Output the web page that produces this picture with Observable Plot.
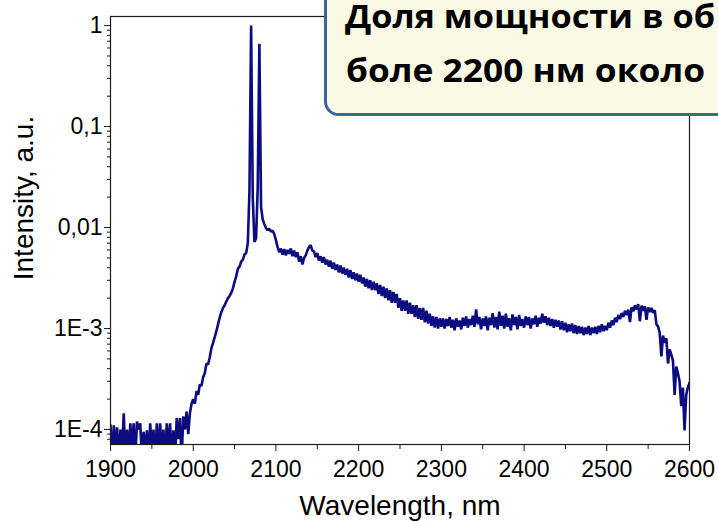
<!DOCTYPE html>
<html>
<head>
<meta charset="utf-8">
<script src="https://cdn.jsdelivr.net/npm/d3@7"></script>
<script src="https://cdn.jsdelivr.net/npm/@observablehq/plot@0.6"></script>
<style>
  html, body { margin: 0; padding: 0; background: #fff; }
  #chart { width: 718px; height: 522px; overflow: hidden; }
</style>
</head>
<body>
<div id="chart"></div>
<script>
// Supercontinuum spectrum, sampled every 2 nm from 1900 nm to 2600 nm.
const startNm = 1900;
const stepNm = 2;

// Noise floor of the detector, 1900–1998 nm
const baseline1900to1998 = [
  1.1e-4, 5e-5, 1.1e-4, 6e-5, 1.05e-4, 5e-5, 1.0e-4, 6e-5, 1.45e-4, 5e-5,
  1.0e-4, 5.5e-5, 1.15e-4, 6e-5, 1.15e-4, 5e-5, 1.2e-4, 1.0e-4, 1.15e-4, 5e-5,
  9.5e-5, 5.5e-5, 9.8e-5, 5e-5, 1.15e-4, 6e-5, 1.0e-4, 5e-5, 1.15e-4, 5e-5,
  1.15e-4, 6e-5, 1.0e-4, 5e-5, 1.15e-4, 6e-5, 1.15e-4, 5e-5, 9.8e-5, 5e-5,
  1.3e-4, 8e-5, 1.3e-4, 5e-5, 1.35e-4, 1.0e-4, 1.5e-4, 9e-5, 1.45e-4, 1.8e-4
];

// Steep rise and the two pump lines, 2000–2098 nm
const rise2000to2098 = [
  2.0e-4, 1.8e-4, 2.4e-4, 2.2e-4, 2.8e-4, 2.7e-4, 3.3e-4, 3.6e-4, 4.5e-4, 4.4e-4,
  5.2e-4, 6.4e-4, 7.2e-4, 8.2e-4, 9.4e-4, 1.1e-3, 1.28e-3, 1.45e-3, 1.6e-3, 1.7e-3,
  1.85e-3, 2.0e-3, 2.1e-3, 2.25e-3, 2.5e-3, 2.9e-3, 3.3e-3, 3.9e-3, 4.1e-3, 4.6e-3,
  4.8e-3, 5.4e-3, 5.6e-3, 7.0e-3, 0.023, 1.0, 0.02, 0.0072, 0.0078, 0.025,
  0.66, 0.016, 0.012, 0.0108, 0.0099, 0.0094, 0.0097, 0.0091, 0.0093, 0.0086
];

// Gradual decay, 2100–2198 nm
const slope2100to2198 = [
  0.0075, 0.0064, 0.0057, 0.0062, 0.0054, 0.0061, 0.0053, 0.0060, 0.0055, 0.0062,
  0.0052, 0.0059, 0.0051, 0.0057, 0.0046, 0.0052, 0.0043, 0.0050, 0.0053, 0.0059,
  0.0064, 0.0067, 0.0059, 0.0058, 0.0051, 0.0056, 0.0047, 0.0052, 0.0045, 0.0051,
  0.0043, 0.0048, 0.0041, 0.0047, 0.0039, 0.0045, 0.0038, 0.0043, 0.0036, 0.0042,
  0.0035, 0.0040, 0.0034, 0.0039, 0.0032, 0.0038, 0.0031, 0.0036, 0.0030, 0.0035
];

// Gradual decay, 2200–2298 nm
const slope2200to2298 = [
  0.0029, 0.0034, 0.0028, 0.0032, 0.0026, 0.0031, 0.0025, 0.0030, 0.0024, 0.0029,
  0.0024, 0.0028, 0.0022, 0.0027, 0.0021, 0.0026, 0.0020, 0.0025, 0.0019, 0.0024,
  0.0018, 0.0023, 0.0018, 0.0022, 0.0016, 0.0020, 0.0015, 0.0019, 0.0015, 0.0019,
  0.0014, 0.0018, 0.0014, 0.0017, 0.0013, 0.0017, 0.00125, 0.0016, 0.00122, 0.0016,
  0.00115, 0.0015, 0.00112, 0.0014, 0.00106, 0.00132, 0.00102, 0.0013, 0.00100, 0.00126
];

// Flat region, 2300–2398 nm
const plateau2300to2398 = [
  0.00104, 0.00126, 0.00100, 0.00124, 0.00106, 0.00130, 0.00102, 0.00122, 0.00096, 0.00126,
  0.00104, 0.00120, 0.00098, 0.00128, 0.00106, 0.00132, 0.00102, 0.00124, 0.00108, 0.00134,
  0.00104, 0.00155, 0.00110, 0.00130, 0.00098, 0.00126, 0.00106, 0.00132, 0.00096, 0.00128,
  0.00108, 0.00142, 0.00102, 0.00130, 0.00098, 0.00147, 0.00106, 0.00134, 0.00100, 0.00140,
  0.00104, 0.00126, 0.00096, 0.00138, 0.00108, 0.00130, 0.00098, 0.00136, 0.00106, 0.00124
];

// Flat region, 2400–2498 nm
const plateau2400to2498 = [
  0.00102, 0.00132, 0.00108, 0.00130, 0.00100, 0.00126, 0.00110, 0.00134, 0.00104, 0.00128,
  0.00112, 0.00140, 0.00114, 0.00132, 0.00108, 0.00128, 0.00106, 0.00124, 0.00102, 0.00122,
  0.00104, 0.00120, 0.00098, 0.00118, 0.00096, 0.00114, 0.00092, 0.00110, 0.00094, 0.00112,
  0.00090, 0.00108, 0.00088, 0.00106, 0.00090, 0.00104, 0.00086, 0.00102, 0.00088, 0.00106,
  0.00086, 0.00102, 0.00090, 0.00104, 0.00088, 0.00106, 0.00092, 0.00110, 0.00094, 0.00106
];

// Long-wavelength hump and cut-off, 2500–2600 nm
const edge2500to2600 = [
  0.00096, 0.00114, 0.00102, 0.00120, 0.00108, 0.00128, 0.00116, 0.00136, 0.00124, 0.00142,
  0.00130, 0.00150, 0.00136, 0.00154, 0.00116, 0.00162, 0.00148, 0.00170, 0.00154, 0.00174,
  0.00118, 0.00168, 0.00150, 0.00166, 0.00122, 0.00162, 0.00146, 0.00160, 0.00143, 0.00152,
  0.00110, 0.00105, 0.00090, 0.00053, 0.00085, 0.00072, 0.00080, 0.00045, 0.00062, 0.00055,
  0.00048, 0.00022, 0.00042, 0.00036, 0.00030, 0.00017, 0.00026, 0.000098, 0.00022, 0.00026,
  0.00029
];

// Axis ticks and labels
const xTicks = [1900, 2000, 2100, 2200, 2300, 2400, 2500, 2600];
const xMinorTicks = [1950, 2050, 2150, 2250, 2350, 2450, 2550];
const yTicks = [1e-4, 1e-3, 0.01, 0.1, 1];
const yTickLabels = ["1E-4", "1E-3", "0,01", "0,1", "1"];
const yMinorMultipliers = [2, 3, 4, 5, 6, 7, 8, 9];
const yMinorTicks = [8e-5, 9e-5].concat(
  ...[1e-4, 1e-3, 0.01, 0.1].map(dec => yMinorMultipliers.map(m => m * dec))
);

const xTitle = "Wavelength, nm";
const yTitle = "Intensity, a.u.";
const noteLines = ["Доля мощности в об", "боле 2200 нм около"];

const intensity = [].concat(
  baseline1900to1998, rise2000to2098, slope2100to2198, slope2200to2298,
  plateau2300to2398, plateau2400to2498, edge2500to2600
);
const spectrum = intensity.map((v, i) => ({wl: startNm + stepNm * i, v}));

const ink = "#1c1c1c";
const font = '"Liberation Sans", Arial, sans-serif';

const chart = Plot.plot({
  width: 718,
  height: 522,
  marginLeft: 110,
  marginRight: 29,
  marginTop: 16,
  marginBottom: 78,
  style: {fontFamily: font, fontSize: "23px", color: "#000", background: "#fff"},
  x: {domain: [1900, 2600]},
  y: {type: "log", domain: [7.1e-5, 1.23]},
  marks: [
    Plot.line(spectrum, {x: "wl", y: "v", stroke: "#0c0c80", strokeWidth: 2.6,
                         strokeLinejoin: "miter", clip: true}),
    Plot.frame({stroke: ink, strokeWidth: 1.2}),
    Plot.axisX({ticks: xTicks, tickSize: 7, tickPadding: 9, fontSize: 23, label: null,
                stroke: ink, tickFormat: d => String(d)}),
    Plot.axisX({ticks: xMinorTicks, tickSize: 5, label: null, stroke: ink, tickFormat: () => ""}),
    Plot.axisY({ticks: yTicks, tickSize: 6, tickPadding: 2, fontSize: 23, label: null,
                stroke: ink, tickFormat: d => yTickLabels[yTicks.indexOf(d)]}),
    Plot.axisY({ticks: yMinorTicks, tickSize: 3, label: null, stroke: ink, tickFormat: () => ""})
  ]
});

document.getElementById("chart").appendChild(chart);

const svg = d3.select(chart);

// Axis titles
svg.append("text")
  .attr("x", 400).attr("y", 515)
  .attr("text-anchor", "middle")
  .style("font-family", font).style("font-size", "28px").attr("fill", "#000")
  .text(xTitle);

svg.append("text")
  .attr("transform", "translate(33,198) rotate(-90)")
  .attr("text-anchor", "middle")
  .style("font-family", font).style("font-size", "28px").attr("fill", "#000")
  .text(yTitle);

// Callout note in the upper right corner
const noteFont = '"Open Sans", "Noto Sans", sans-serif';
const note = svg.append("g").attr("text-anchor", "start");
note.append("rect")
  .attr("x", 325.5).attr("y", -30).attr("width", 430).attr("height", 144.5)
  .attr("rx", 13).attr("ry", 13)
  .attr("fill", "#fafae4").attr("stroke", "#3b659b").attr("stroke-width", 3);
note.append("text")
  .attr("x", 345).attr("y", 28)
  .attr("text-anchor", "start")
  .attr("textLength", 370).attr("lengthAdjust", "spacingAndGlyphs")
  .style("font-family", noteFont)
  .style("font-weight", 700).style("font-size", "32px").attr("fill", "#000")
  .text(noteLines[0]);
note.append("text")
  .attr("x", 346).attr("y", 82)
  .attr("text-anchor", "start")
  .attr("textLength", 359).attr("lengthAdjust", "spacingAndGlyphs")
  .style("font-family", noteFont)
  .style("font-weight", 700).style("font-size", "33px").attr("fill", "#000")
  .text(noteLines[1]);
</script>
</body>
</html>
